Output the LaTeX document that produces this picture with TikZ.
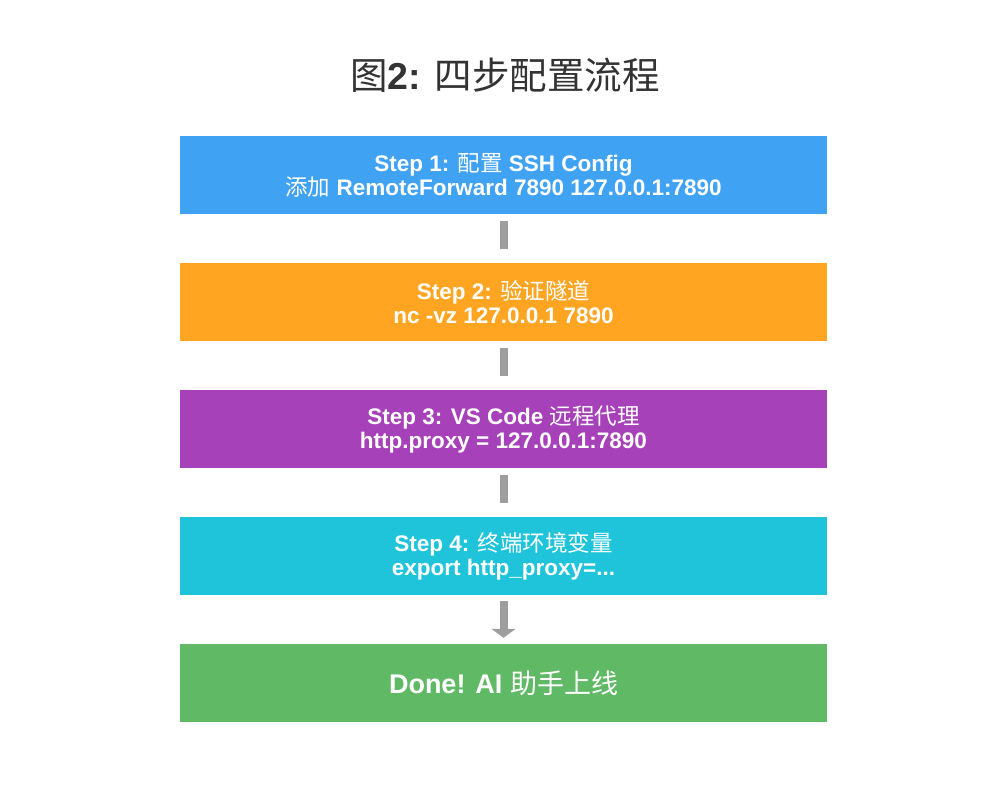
\documentclass[tikz,border=0pt]{standalone}
\usepackage{fontspec}
\setmainfont{Liberation Sans}
\newfontfamily\cjk{Noto Sans CJK SC}
\usetikzlibrary{arrows.meta}
\definecolor{cblue}{HTML}{3FA2F2}
\definecolor{corange}{HTML}{FFA522}
\definecolor{cpurple}{HTML}{A741B9}
\definecolor{ccyan}{HTML}{1FC4DA}
\definecolor{cgreen}{HTML}{60B964}
\definecolor{cgray}{HTML}{9E9E9E}
\definecolor{ctitle}{HTML}{333333}
\tikzset{
  stepbox/.style={rectangle, minimum width=647pt, minimum height=78pt, inner sep=0pt,
    text=white, align=center, font=\bfseries\fontsize{22.5}{24}\selectfont},
  conn/.style={draw=cgray, line width=8pt, shorten <=7pt, shorten >=14pt},
  connarrow/.style={draw=cgray, line width=8pt, shorten <=6pt, shorten >=6pt,
    -{Triangle[width=24pt,length=9pt]}},
}
\begin{document}
\begin{tikzpicture}[x=1pt,y=-1pt]
\useasboundingbox (0,0) rectangle (1000,800);
\node[text=ctitle, font=\fontsize{37.5}{40}\selectfont] (title) at (505,75)
  {{\cjk 图}\textbf{2:} {\cjk 四步配置流程}};
\node[stepbox, fill=cblue] (b1) at (503.5,175)
  {Step 1: {\cjk\mdseries 配置} SSH Config\\{\cjk\mdseries 添加} RemoteForward 7890 127.0.0.1:7890};
\node[stepbox, fill=corange] (b2) at (503.5,302)
  {Step 2: {\cjk\mdseries 验证隧道}\\nc -vz 127.0.0.1 7890};
\node[stepbox, fill=cpurple] (b3) at (503.5,429)
  {Step 3: VS Code {\cjk\mdseries 远程代理}\\http.proxy = 127.0.0.1:7890};
\node[stepbox, fill=ccyan] (b4) at (503.5,556)
  {Step 4: {\cjk\mdseries 终端环境变量}\\export http\_proxy=...};
\node[stepbox, fill=cgreen, font=\bfseries\fontsize{27}{30}\selectfont] (b5) at (503.5,683)
  {Done! AI {\cjk\mdseries 助手上线}};
\draw[conn] (b1.south) -- (b2.north);
\draw[conn] (b2.south) -- (b3.north);
\draw[conn] (b3.south) -- (b4.north);
\draw[connarrow] (b4.south) -- (b5.north);
\end{tikzpicture}
\end{document}
